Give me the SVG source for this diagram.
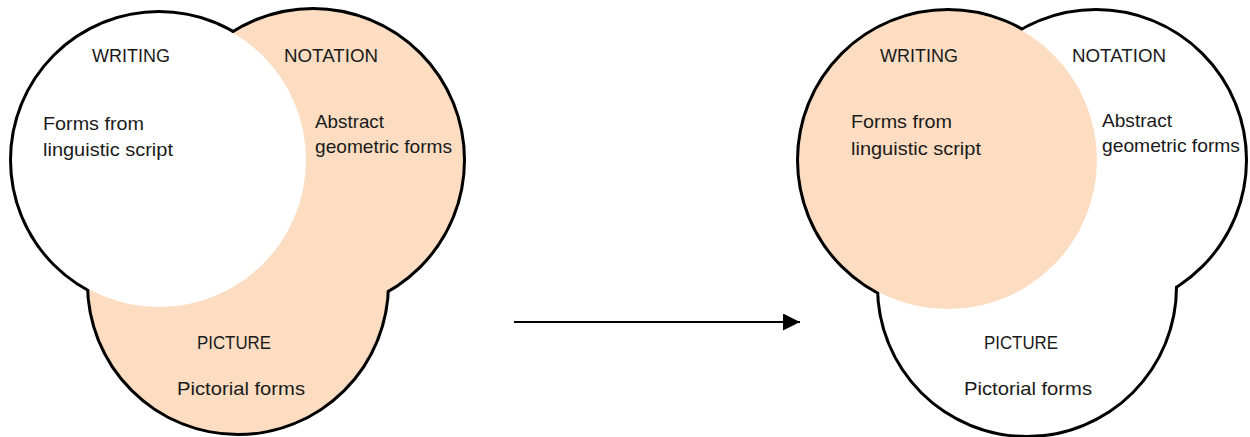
<svg xmlns="http://www.w3.org/2000/svg" width="1250" height="437" viewBox="0 0 1250 437">
<style>
.edge{fill:none;stroke:#000;stroke-width:6}
.peach{fill:#FCDDC1;stroke:none}
.blank{fill:#FFFFFF;stroke:none}
.lbl{font-family:"Liberation Sans",Arial,sans-serif;font-size:19px;fill:#1a1a1a}
.conn{stroke:#000;stroke-width:2;fill:none}
</style>
<defs>
<marker id="arrow" viewBox="0 0 17 17" refX="17" refY="8.5" markerWidth="17" markerHeight="17" markerUnits="userSpaceOnUse" orient="auto">
<path d="M0,0 L17,8.5 L0,17 Z" fill="#000"/>
</marker>
</defs>
<rect width="1250" height="437" fill="#FFFFFF"/>

<g id="left-diagram">
  <g id="left-outline">
    <circle class="edge" cx="159" cy="160" r="147"/>
    <circle class="edge" cx="313" cy="160" r="150"/>
    <circle class="edge" cx="238" cy="284" r="149"/>
  </g>
  <g id="left-notation">
    <circle class="peach" cx="313" cy="160" r="150"/>
  </g>
  <g id="left-picture">
    <circle class="peach" cx="238" cy="284" r="149"/>
  </g>
  <g id="left-writing">
    <circle class="blank" cx="159" cy="160" r="147"/>
  </g>
  <g id="left-writing-text">
    <text class="lbl" x="92" y="62" textLength="78" lengthAdjust="spacingAndGlyphs">WRITING</text>
    <text class="lbl" x="43" y="130" textLength="101" lengthAdjust="spacingAndGlyphs">Forms from</text>
    <text class="lbl" x="43" y="156" textLength="130" lengthAdjust="spacingAndGlyphs">linguistic script</text>
  </g>
  <g id="left-notation-text">
    <text class="lbl" x="284" y="62" textLength="94" lengthAdjust="spacingAndGlyphs">NOTATION</text>
    <text class="lbl" x="315" y="128" textLength="69" lengthAdjust="spacingAndGlyphs">Abstract</text>
    <text class="lbl" x="315" y="153" textLength="137" lengthAdjust="spacingAndGlyphs">geometric forms</text>
  </g>
  <g id="left-picture-text">
    <text class="lbl" x="197" y="349" textLength="74" lengthAdjust="spacingAndGlyphs">PICTURE</text>
    <text class="lbl" x="177" y="395" textLength="128" lengthAdjust="spacingAndGlyphs">Pictorial forms</text>
  </g>
</g>

<g id="right-diagram">
  <g id="right-outline">
    <circle class="edge" cx="948" cy="160" r="149"/>
    <circle class="edge" cx="1096" cy="160" r="149"/>
    <circle class="edge" cx="1027" cy="287" r="148"/>
  </g>
  <g id="right-notation">
    <circle class="blank" cx="1096" cy="160" r="149"/>
  </g>
  <g id="right-picture">
    <circle class="blank" cx="1027" cy="287" r="148"/>
  </g>
  <g id="right-writing">
    <circle class="peach" cx="948" cy="160" r="149"/>
  </g>
  <g id="right-writing-text">
    <text class="lbl" x="880" y="62" textLength="78" lengthAdjust="spacingAndGlyphs">WRITING</text>
    <text class="lbl" x="851" y="128" textLength="101" lengthAdjust="spacingAndGlyphs">Forms from</text>
    <text class="lbl" x="851" y="155" textLength="130" lengthAdjust="spacingAndGlyphs">linguistic script</text>
  </g>
  <g id="right-notation-text">
    <text class="lbl" x="1072" y="62" textLength="94" lengthAdjust="spacingAndGlyphs">NOTATION</text>
    <text class="lbl" x="1102" y="127" textLength="70" lengthAdjust="spacingAndGlyphs">Abstract</text>
    <text class="lbl" x="1102" y="152" textLength="138" lengthAdjust="spacingAndGlyphs">geometric forms</text>
  </g>
  <g id="right-picture-text">
    <text class="lbl" x="984" y="349" textLength="74" lengthAdjust="spacingAndGlyphs">PICTURE</text>
    <text class="lbl" x="964" y="395" textLength="128" lengthAdjust="spacingAndGlyphs">Pictorial forms</text>
  </g>
</g>

<g id="connectors">
  <line class="conn" x1="514" y1="322" x2="800" y2="322" marker-end="url(#arrow)"/>
</g>
</svg>
